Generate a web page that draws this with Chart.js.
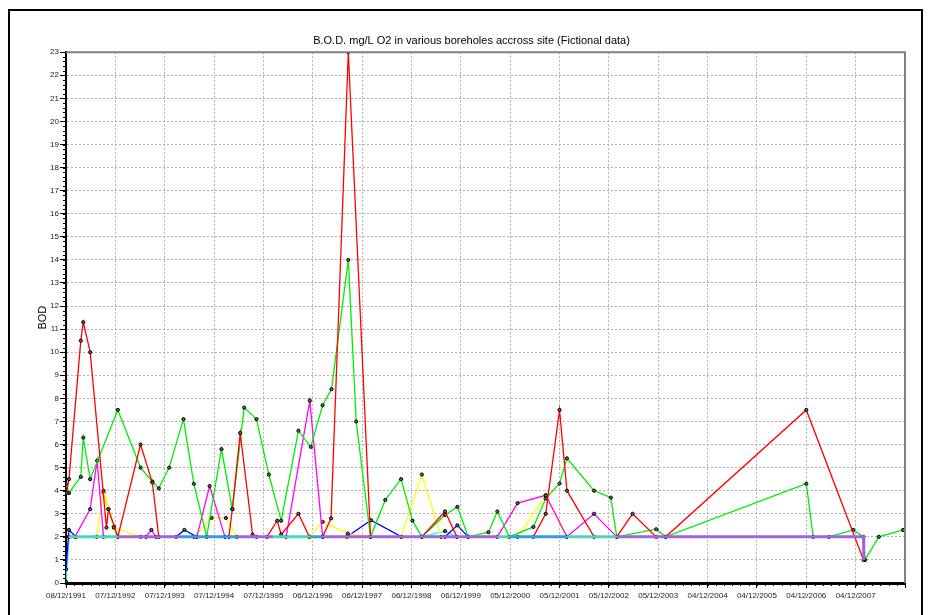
<!DOCTYPE html>
<html>
<head>
<meta charset="utf-8">
<script src="https://cdn.jsdelivr.net/npm/chart.js@4.4.0/dist/chart.umd.min.js"></script>
<style>
html, body { margin: 0; padding: 0; background: #fff; overflow: hidden; }
#wrap { position: absolute; left: 0; top: 0; width: 933px; height: 615px; }
#frame { position: absolute; left: 8px; top: 9px; width: 915px; height: 620px; border: 2px solid #000; border-bottom: none; box-sizing: border-box; }
</style>
</head>
<body>
<div id="frame"></div>
<div id="wrap"><canvas id="chart" width="933" height="615"></canvas></div>
<script>
// x values are years since 08/12/1991
var tickLabels = ['08/12/1991', '07/12/1992', '07/12/1993', '07/12/1994', '07/12/1995', '06/12/1996',
    '06/12/1997', '06/12/1998', '06/12/1999', '05/12/2000', '05/12/2001', '05/12/2002', '05/12/2003',
    '04/12/2004', '04/12/2005', '04/12/2006', '04/12/2007'];

var redX = [0.01, 0.06, 0.30, 0.35, 0.49, 0.82, 0.86, 1.05, 1.51, 1.75, 1.88, 3.30, 3.37, 3.53, 3.78, 3.86, 4.07, 4.28, 4.36, 4.71,
    4.93, 5.20, 5.37, 5.72, 6.17, 7.21, 7.68, 7.92, 9.47, 9.72, 10.00, 10.15, 10.70, 11.16, 11.48, 11.96, 12.15, 15.00, 16.16];
var redY = [3.9, 4.5, 10.5, 11.3, 10.0, 2.4, 3.2, 2.0, 6.0, 4.35, 2.0, 2.0, 3.2, 6.5, 2.1, 2.0, 2.0, 2.7, 2.1, 3.0,
    2.0, 2.0, 2.8, 23.0, 2.0, 2.0, 3.1, 2.0, 2.0, 3.0, 7.5, 4.0, 2.0, 2.0, 3.0, 2.0, 2.0, 7.5, 1.0];

var greenX = [0.00, 0.06, 0.30, 0.35, 0.49, 1.05, 1.51, 1.75, 1.88, 2.09, 2.38, 2.59, 2.85, 3.15, 3.37, 3.61, 3.86, 4.11, 4.36, 4.71,
    4.96, 5.20, 5.38, 5.72, 5.88, 6.17, 6.47, 6.79, 7.02, 7.21, 7.68, 7.93, 8.15, 8.56, 8.74, 8.98, 9.47, 9.72, 10.00, 10.15,
    10.70, 11.04, 11.16, 11.96, 12.15, 15.00, 15.14, 15.46, 15.95, 16.16, 16.19, 16.47, 16.96];
var greenY = [4.3, 3.9, 4.6, 6.3, 4.5, 7.5, 5.0, 4.4, 4.1, 5.0, 7.1, 4.3, 2.0, 5.8, 3.2, 7.6, 7.1, 4.7, 2.7, 6.6,
    5.9, 7.7, 8.4, 14.0, 7.0, 2.0, 3.6, 4.5, 2.7, 2.0, 2.95, 3.3, 2.0, 2.2, 3.1, 2.0, 2.43, 3.66, 4.31, 5.4,
    4.0, 3.7, 2.0, 2.33, 2.0, 4.3, 2.0, 2.0, 2.3, 2.0, 1.0, 2.0, 2.3];

var magentaX = [0.06, 0.18, 0.49, 0.63, 0.76, 1.62, 1.73, 1.82, 2.65, 2.91, 3.22, 4.46, 4.94, 5.20, 8.74, 9.15, 9.72, 10.15, 10.70, 11.16];
var magentaY = [2.0, 2.0, 3.2, 5.3, 2.0, 2.0, 2.3, 2.0, 2.0, 4.2, 2.0, 2.0, 7.9, 2.0, 2.0, 3.46, 3.8, 2.0, 3.0, 2.0];

var yellowX = [0.62, 0.76, 0.97, 1.51, 2.59, 2.95, 3.24, 3.46, 4.93, 5.20, 5.71, 6.17, 6.79, 7.21, 7.60, 9.15, 9.72, 10.15];
var yellowY = [2.0, 4.0, 2.4, 2.0, 2.0, 2.82, 2.82, 2.0, 2.0, 2.65, 2.14, 2.0, 2.0, 4.7, 2.0, 2.0, 3.8, 2.0];

var orangeX = [0.76, 0.86, 0.97, 1.05];
var orangeY = [3.9, 3.2, 2.45, 2.0];

var blueX = [0.00, 0.06, 0.20, 2.23, 2.40, 2.65, 5.69, 6.18, 6.80, 7.68, 7.93, 8.15];
var blueY = [0.6, 2.3, 2.0, 2.0, 2.3, 2.0, 2.0, 2.72, 2.0, 2.0, 2.5, 2.0];

var cyanX = [0.00, 0.06, 7.21, 7.68, 7.92];
var cyanY = [0.05, 2.0, 2.0, 2.25, 2.0];

// series sitting on the 2.0 detection limit (null = no sample)
var tealX = [0.06, 1.05, 1.05, 4.19, 4.94, 4.94, 8.75, 8.99, 8.99, 10.15, 11.16];
var tealY = [2, 2, null, 2, 2, null, 2, 2, null, 2, 2];
var purpleX = [1.05, 2.31, 2.31, 3.47, 4.19, 4.19, 5.20, 8.75, 8.75, 11.16, 16.16, 16.165];
var purpleY = [2, 2, null, 2, 2, null, 2, 2, null, 2, 2, 1.0];
var skyX = [2.31, 3.47, 3.47, 4.94, 5.20, 5.20, 8.99, 10.15];
var skyY = [2, 2, null, 2, 2, null, 2, 2];

function pts(xs, ys) {
    var out = [];
    for (var i = 0; i < xs.length; i++) out.push({x: xs[i], y: ys[i]});
    return out;
}

function series(label, xs, ys, color) {
    return {
        label: label, data: pts(xs, ys), borderColor: color, borderWidth: 1.3,
        pointRadius: 1.6, pointBackgroundColor: '#666', pointBorderColor: '#000', pointBorderWidth: 1
    };
}

function baseline(label, xs, ys, color) {
    return { label: label, data: pts(xs, ys), borderColor: color, borderWidth: 3, pointRadius: 0, spanGaps: false };
}

var fontFam = "'Liberation Sans', Arial, sans-serif";

var extras = {
    id: 'extras',
    afterDraw: function (chart) {
        var ctx = chart.ctx, a = chart.chartArea, x = chart.scales.x, y = chart.scales.y;
        ctx.save();
        ctx.strokeStyle = '#000';
        ctx.lineWidth = 1;
        ctx.beginPath();
        for (var v = 0; v <= 23.001; v += 0.2) {
            var py = Math.round(y.getPixelForValue(v)) + 0.5;
            ctx.moveTo(a.left - 3, py); ctx.lineTo(a.left, py);
        }
        for (var t = 0; t <= 17.001; t += 1 / 6) {
            var px = Math.round(x.getPixelForValue(t)) + 0.5;
            ctx.moveTo(px, a.bottom); ctx.lineTo(px, a.bottom + 3);
        }
        ctx.stroke();
        ctx.strokeStyle = '#808080';
        ctx.lineWidth = 2;
        ctx.beginPath();
        ctx.moveTo(a.left, a.top); ctx.lineTo(a.right, a.top); ctx.lineTo(a.right, a.bottom);
        ctx.stroke();
        ctx.restore();
    }
};

var ctx = document.getElementById('chart').getContext('2d');
var myChart = new Chart(ctx, {
    type: 'line',
    data: {
        datasets: [
            baseline('BH-T', tealX, tealY, '#4fd3bf'),
            baseline('BH-P', purpleX, purpleY, '#a066d8'),
            baseline('BH-S', skyX, skyY, '#3a9ae0'),
            series('BH-R', redX, redY, '#ff0000'),
            series('BH-G', greenX, greenY, '#00ee00'),
            series('BH-M', magentaX, magentaY, '#ff00ff'),
            series('BH-Y', yellowX, yellowY, '#ffff00'),
            series('BH-O', orangeX, orangeY, '#ffa500'),
            series('BH-B', blueX, blueY, '#0000ff'),
            series('BH-C', cyanX, cyanY, '#00ffff')
        ]
    },
    options: {
        responsive: false,
        animation: false,
        layout: { padding: { left: 38, right: 28, top: 0, bottom: 0 } },
        elements: { line: { tension: 0 } },
        plugins: {
            legend: { display: false },
            tooltip: { enabled: false },
            title: {
                display: true,
                text: 'B.O.D. mg/L O2 in various boreholes accross site (Fictional data)',
                color: '#000',
                font: { family: fontFam, size: 11, weight: 'normal' },
                padding: { top: 34, bottom: 5 }
            }
        },
        scales: {
            x: {
                type: 'linear', min: 0, max: 17,
                afterFit: function (s) { s.height = 32; },
                grid: { color: '#b0b0b0', tickColor: '#000', tickLength: 5 },
                border: { color: '#000', width: 3, dash: [2, 2] },
                ticks: {
                    stepSize: 1, autoSkip: false, maxRotation: 0, padding: 3, color: '#222',
                    font: { family: fontFam, size: 8 },
                    callback: function (v) { return tickLabels[v] || ''; }
                }
            },
            y: {
                min: 0, max: 23,
                afterFit: function (s) { s.width = 28; },
                grid: { color: '#b0b0b0', tickColor: '#000', tickLength: 6 },
                border: { color: '#000', width: 2, dash: [2, 2] },
                title: {
                    display: true, text: 'BOD', color: '#000',
                    font: { family: fontFam, size: 11 },
                    padding: { top: -2, bottom: 0 }
                },
                ticks: {
                    stepSize: 1, padding: 1, color: '#222',
                    font: { family: fontFam, size: 8 }
                }
            }
        }
    },
    plugins: [extras]
});
</script>
</body>
</html>
